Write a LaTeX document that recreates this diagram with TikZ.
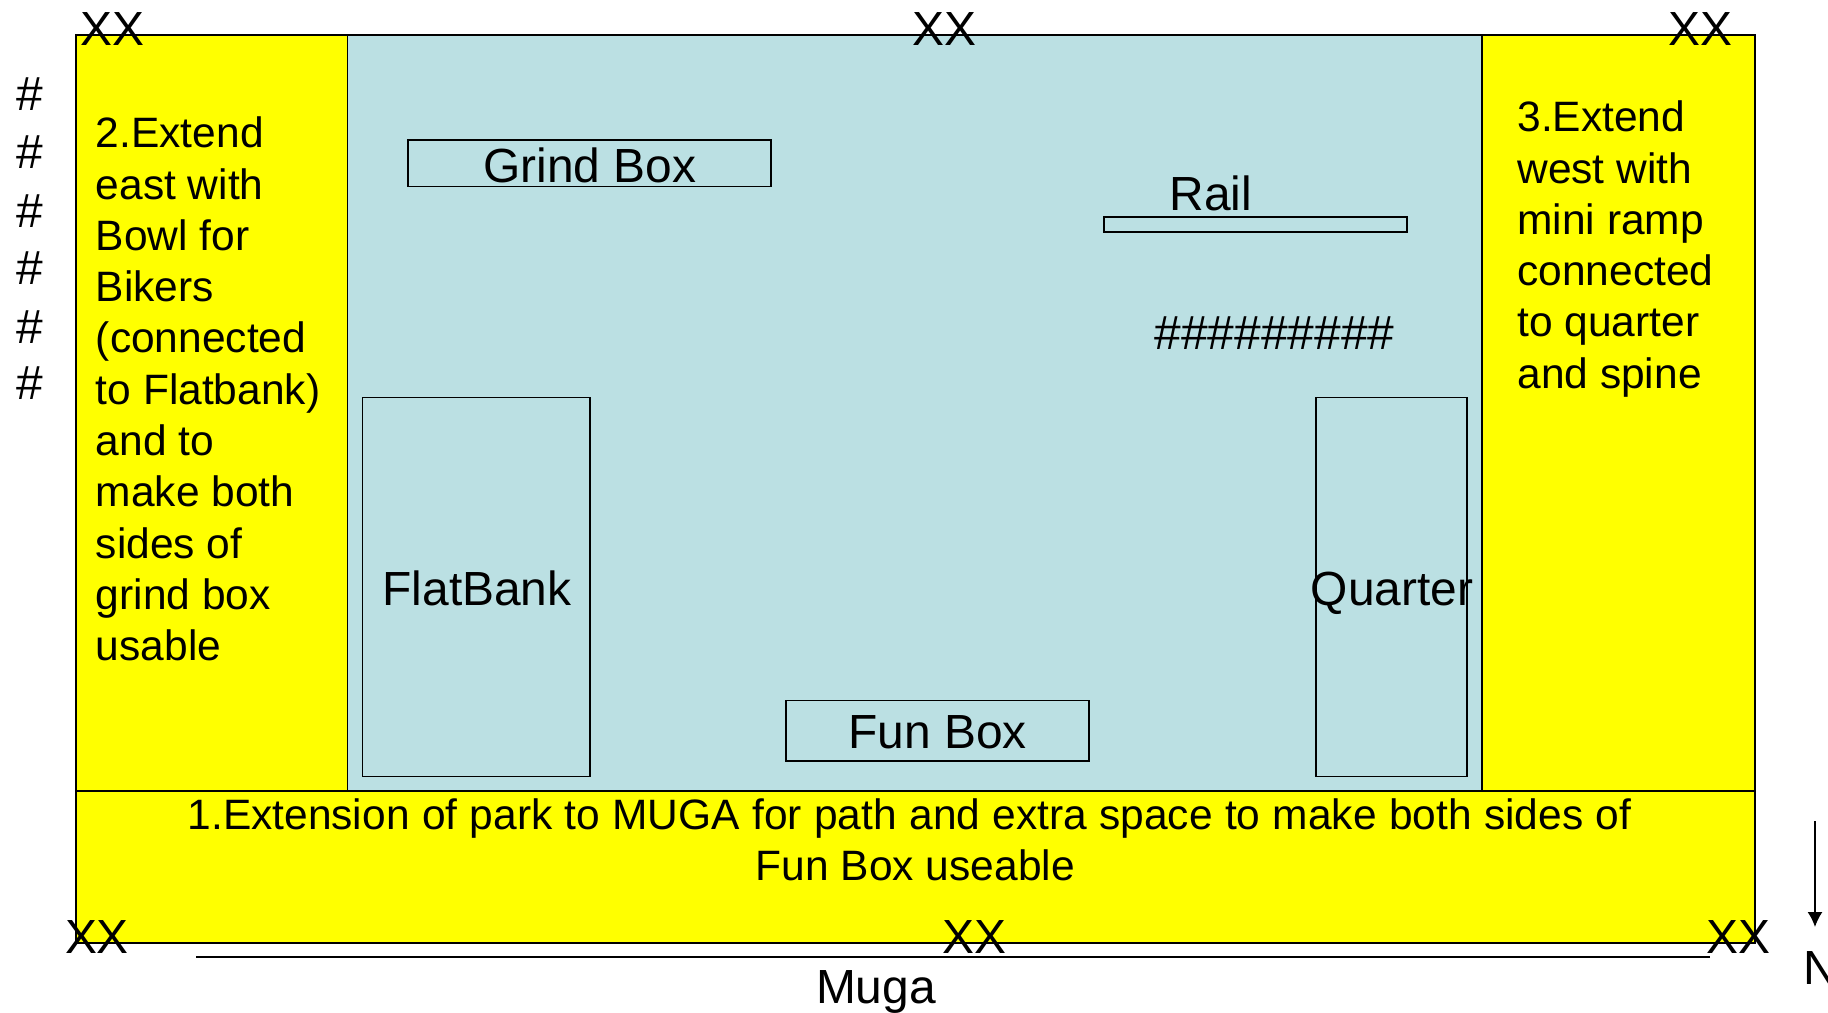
\documentclass[tikz,border=0pt]{standalone}
\usepackage{fontspec}
\setmainfont{Liberation Sans}
\usetikzlibrary{arrows.meta}
\definecolor{parkblue}{HTML}{BBE0E3}
\definecolor{extyellow}{HTML}{FFFF00}
\begin{document}
\begin{tikzpicture}[x=0.5pt,y=-0.5pt,
    area/.style={draw,line width=0.9pt,inner sep=0pt},
    ramp/.style={draw,line width=0.8pt,inner sep=0pt},
    big/.style={inner sep=0pt,font=\fontsize{23.95}{28}\selectfont},
    note/.style={inner sep=0pt,font=\fontsize{21.25}{25.65}\selectfont}]
    \useasboundingbox (0,0) rectangle (1828,1013);
    % extensions and park
    \node[area,fill=parkblue,minimum width=567.25pt,minimum height=378pt] (park) at (914.75,413) {};
    \node[area,fill=extyellow,minimum width=135.75pt,minimum height=378pt] (east) at (211.75,413) {};
    \node[area,fill=extyellow,minimum width=136.5pt,minimum height=378pt] (west) at (1618.5,413) {};
    \node[area,fill=extyellow,minimum width=839.5pt,minimum height=76pt] (south) at (915.5,867) {};
    % obstacles
    \node[ramp,minimum width=181.5pt,minimum height=23.25pt] (grind) at (589.5,163.25) {};
    \node[big] (grindtext) at (590,165) {Grind Box};
    \node[ramp,minimum width=151.5pt,minimum height=7.5pt] (railbar) at (1255.5,224.5) {};
    \node[big] (rail) at (1211,193) {Rail};
    \node[big] (hashes) at (1274.5,333) {\#\#\#\#\#\#\#\#\#};
    \node[ramp,minimum width=113.75pt,minimum height=189.5pt] (flat) at (476.25,587) {};
    \node[big] (flattext) at (477,588.2) {FlatBank};
    \node[ramp,minimum width=75.5pt,minimum height=189.5pt] (quarter) at (1391.5,587) {};
    \node[big] (quartertext) at (1392,593.5) {Quarter};
    \node[ramp,minimum width=151.5pt,minimum height=30.25pt] (fun) at (937.5,730.75) {};
    \node[big] (funtext) at (937.5,732.5) {Fun Box};
    % notes
    \node[note,align=left,anchor=north west] (eastnote) at (95.5,116.5) {2.Extend\\east with\\Bowl for\\Bikers\\(connected\\to Flatbank)\\and to\\make both\\sides of\\grind box\\usable};
    \node[note,align=left,anchor=north west] (westnote) at (1517,100.5) {3.Extend\\west with\\mini ramp\\connected\\to quarter\\and spine};
    \node[note,align=center] (southnote) at (909.5,839.5) {\spaceskip=6.17pt\relax 1.Extension of park to MUGA for path and extra space to make both sides of\\\hspace*{5.8pt}Fun Box useable};
    % fence marks
    \node[big] (xa) at (112,29) {XX};
    \node[big] (xb) at (944,29) {XX};
    \node[big] (xc) at (1700,29) {XX};
    \node[big] (xd) at (97,937) {XX};
    \node[big] (xe) at (974,937) {XX};
    \node[big] (xf) at (1738,937) {XX};
    \foreach \i/\y in {1/94,2/152,3/211,4/268,5/327,6/383}
        \node[big] (h\i) at (29.5,\y) {\#};
    % muga and north
    \coordinate (mugaleft) at (196,957);
    \coordinate (mugaright) at (1710,957);
    \draw[line width=0.7pt] (mugaleft) -- (mugaright);
    \node[big] (muga) at (876,992) {Muga};
    \node[big,anchor=west] (north) at (1803,968) {N};
    \coordinate (arrowtop) at (1815,821);
    \coordinate (arrowtip) at (1815,927);
    \draw[line width=0.8pt,-{Latex[length=7.5pt,width=7.5pt]}] (arrowtop) -- (arrowtip);
\end{tikzpicture}
\end{document}
